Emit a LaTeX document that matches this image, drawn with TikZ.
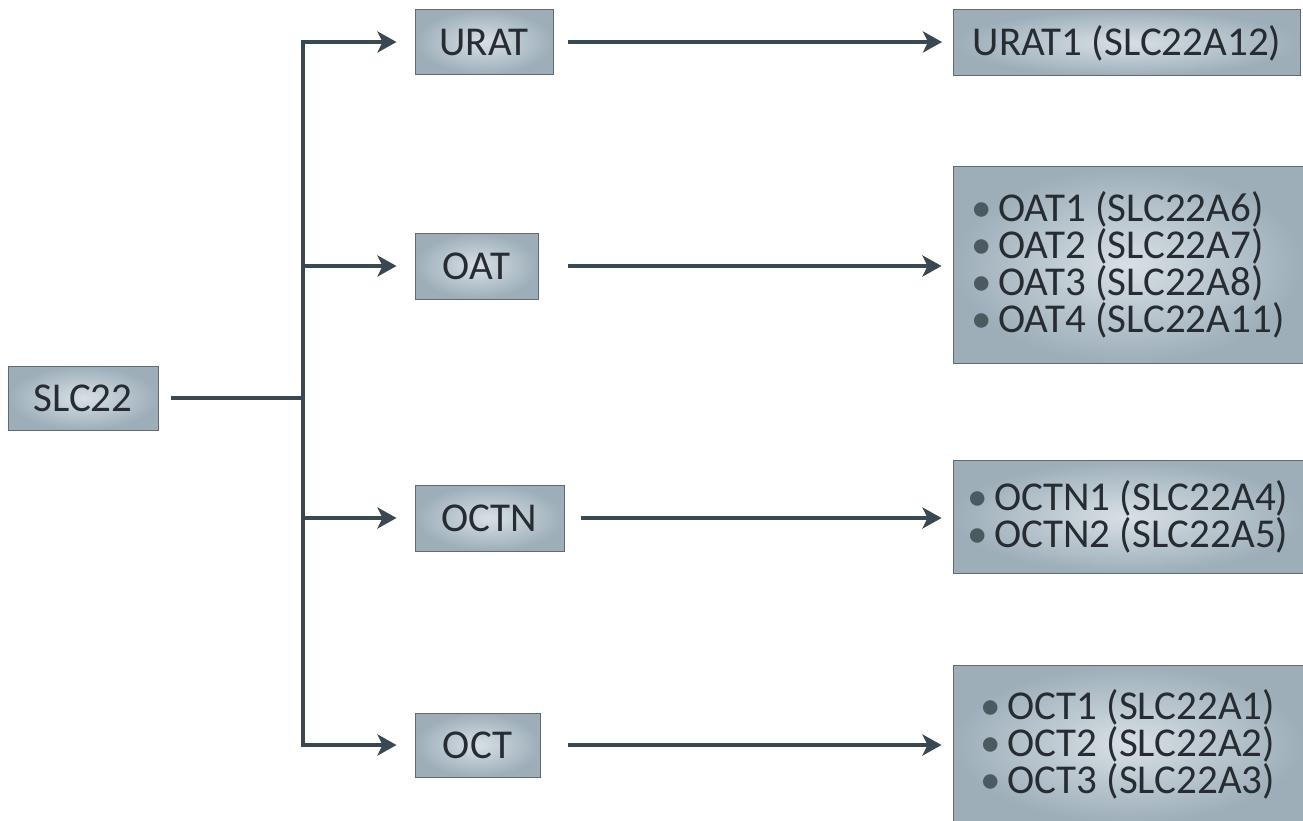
\documentclass[tikz,border=0pt]{standalone}
\usepackage{fontspec}
\setmainfont{Carlito}
\usetikzlibrary{arrows.meta}
\definecolor{linec}{HTML}{3A4852}
\definecolor{boxout}{HTML}{9DAEB9}
\definecolor{boxin}{HTML}{D8E0E5}
\definecolor{boxedge}{HTML}{5E6B73}
\definecolor{txt}{HTML}{262C31}
\definecolor{bulc}{HTML}{4A5A60}
\tikzset{
  box/.style={draw=boxedge, line width=1pt, inner color=boxin, outer color=boxout,
    text=txt, font=\fontsize{41}{37}\selectfont, inner sep=0pt, align=center},
  listbox/.style={box, align=left, minimum width=350pt},
  conn/.style={draw=linec, line width=4.5pt},
  arr/.style={conn, -{Stealth[length=19pt,width=21pt,inset=5pt]}},
}
\newcommand{\bl}{{\color{bulc}\char"2022}\hspace{0.15em}}
\begin{document}
\begin{tikzpicture}[x=1pt,y=-1pt]
\useasboundingbox (0,0) rectangle (1303,821);
\node[box, minimum width=150pt, minimum height=64pt] (slc) at (83,398) {SLC22};
\node[box, minimum width=138pt, minimum height=65pt] (urat) at (484,42) {URAT};
\node[box, minimum width=123pt, minimum height=66pt] (oat) at (476.5,266) {OAT};
\node[box, minimum width=149pt, minimum height=66pt] (octn) at (489.5,518) {OCTN};
\node[box, minimum width=125pt, minimum height=64pt] (oct) at (477.5,745) {OCT};
\node[box, minimum width=347pt, minimum height=66pt] (urat1) at (1127,43) {URAT1 (SLC22A12)};
\node[listbox, minimum height=196pt] (oatl) at (1128,265) {\bl OAT1 (SLC22A6)\\ \bl OAT2 (SLC22A7)\\ \bl OAT3 (SLC22A8)\\ \bl OAT4 (SLC22A11)};
\node[listbox, minimum height=113pt] (octnl) at (1128,517) {\bl OCTN1 (SLC22A4)\\ \bl OCTN2 (SLC22A5)};
\node[listbox, minimum height=158pt] (octl) at (1128,744) {\bl OCT1 (SLC22A1)\\ \bl OCT2 (SLC22A2)\\ \bl OCT3 (SLC22A3)};
\coordinate (j) at (303,398);
\draw[conn, shorten <=12pt] (slc.east) -- (j);
\draw[arr, shorten >=18pt] (j) |- (urat.west);
\draw[arr, shorten >=18pt] (j) |- (oat.west);
\draw[arr, shorten >=18pt] (j) |- (octn.west);
\draw[arr, shorten >=18pt] (j) |- (oct.west);
\draw[arr, shorten <=14pt, shorten >=11pt] (urat.east) -- (urat1.west |- urat.east);
\draw[arr, shorten <=29pt, shorten >=11pt] (oat.east) -- (oatl.west |- oat.east);
\draw[arr, shorten <=16pt, shorten >=11pt] (octn.east) -- (octnl.west |- octn.east);
\draw[arr, shorten <=27pt, shorten >=11pt] (oct.east) -- (octl.west |- oct.east);
\end{tikzpicture}
\end{document}
